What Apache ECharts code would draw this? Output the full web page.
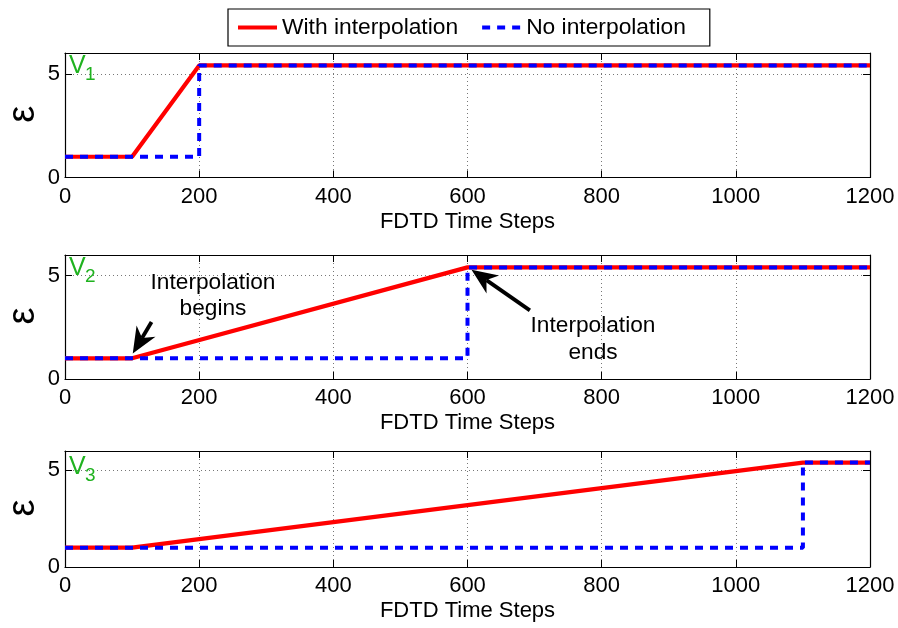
<!DOCTYPE html>
<html>
<head>
<meta charset="utf-8">
<script src="https://cdn.jsdelivr.net/npm/echarts@6/dist/echarts.min.js"></script>
<style>
  html, body { margin: 0; padding: 0; background: #fff; }
  #chart { width: 898px; height: 628px; }
</style>
</head>
<body>
<div id="chart"></div>
<script>
// Permittivity (ε) versus FDTD time step for three switching schemes V1..V3
const xTickValues = [0, 200, 400, 600, 800, 1000, 1200];
const yTickValues = [0, 5];
const panelLabels = ['1', '2', '3'];

// "With interpolation": linear ramp from ε=1 to ε=5.4
const withInterpV1 = [[0, 1], [100, 1], [200, 5.4], [1200, 5.4]];
const withInterpV2 = [[0, 1], [100, 1], [600, 5.4], [1200, 5.4]];
const withInterpV3 = [[0, 1], [100, 1], [1100, 5.4], [1200, 5.4]];

// "No interpolation": abrupt step at the end of the switching window
const noInterpV1 = [[0, 1], [200, 1], [200, 5.4], [1200, 5.4]];
const noInterpV2 = [[0, 1], [600, 1], [600, 5.4], [1200, 5.4]];
const noInterpV3 = [[0, 1], [1100, 1], [1100, 5.4], [1200, 5.4]];

// Annotation arrows in panel V2: [tailX, tailY, tipX, tipY] in data units
const annotationArrows = [
  [129, 2.76, 101, 1.23],
  [693, 3.32, 606, 5.29]
];

const withSeries = [withInterpV1, withInterpV2, withInterpV3];
const noSeries = [noInterpV1, noInterpV2, noInterpV3];

const FONT = '"Liberation Sans", Arial, Helvetica, sans-serif';
const RED = '#ff0000';
const BLUE = '#0000ff';
const GREEN = '#1fb21f';

const gridBoxes = [
  { left: 65, top: 53, width: 805, height: 124.5 },
  { left: 65, top: 255, width: 805, height: 124 },
  { left: 65, top: 451, width: 805, height: 116 }
];
const tagOffsets = [1, 1, 4];

const dotted = { show: true, lineStyle: { color: '#777', width: 1, type: [1, 3] } };
const frameLine = { show: true, onZero: false, lineStyle: { color: '#000', width: 1.2 } };
const innerTick = { show: true, inside: true, length: 7, lineStyle: { color: '#000', width: 1 } };

const grids = [], xAxes = [], yAxes = [], series = [], graphics = [];

gridBoxes.forEach((g, i) => {
  grids.push(Object.assign({ containLabel: false, outerBoundsMode: 'none' }, g));

  xAxes.push({
    type: 'value', gridIndex: i, position: 'bottom',
    min: 0, max: 1200, interval: 200,
    name: 'FDTD Time Steps', nameLocation: 'middle', nameGap: 33,
    nameTextStyle: { fontFamily: FONT, fontSize: 22, color: '#000' },
    axisLine: frameLine, axisTick: innerTick,
    axisLabel: { fontFamily: FONT, fontSize: 22, color: '#000', margin: 8,
      formatter: v => xTickValues.includes(v) ? String(v) : '' },
    splitLine: dotted
  });
  xAxes.push({
    type: 'value', gridIndex: i, position: 'top',
    min: 0, max: 1200, interval: 200,
    axisLine: frameLine, axisTick: innerTick,
    axisLabel: { show: false }, splitLine: { show: false }
  });

  yAxes.push({
    type: 'value', gridIndex: i, position: 'left',
    min: 0, max: 6, interval: 5,
    axisLine: frameLine, axisTick: innerTick,
    axisLabel: { fontFamily: FONT, fontSize: 22, color: '#000', margin: 5,
      formatter: v => yTickValues.includes(v) ? String(v) : '' },
    splitLine: dotted
  });
  yAxes.push({
    type: 'value', gridIndex: i, position: 'right',
    min: 0, max: 6, interval: 5,
    axisLine: frameLine, axisTick: innerTick,
    axisLabel: { show: false }, splitLine: { show: false }
  });

  series.push({
    name: 'With interpolation', type: 'line',
    xAxisIndex: 2 * i, yAxisIndex: 2 * i,
    data: withSeries[i], symbol: 'none', showSymbol: false,
    lineStyle: { color: RED, width: 4.2 }, itemStyle: { color: RED },
    emphasis: { disabled: true }, z: 3
  });
  series.push({
    name: 'No interpolation', type: 'line',
    xAxisIndex: 2 * i, yAxisIndex: 2 * i,
    data: noSeries[i], symbol: 'none', showSymbol: false,
    lineStyle: { color: BLUE, width: 4, type: [8, 7] }, itemStyle: { color: BLUE },
    emphasis: { disabled: true }, z: 4
  });

  // Y-axis title ε, rotated to read upward
  graphics.push({
    type: 'text', x: 24, y: g.top + g.height / 2 - 1, rotation: Math.PI / 2, z: 10,
    style: { text: 'ε', fontFamily: FONT, fontSize: 38, fill: '#000',
      align: 'center', verticalAlign: 'middle' }
  });

  // Panel tag V_n (green, with subscript)
  const vTop = g.top + tagOffsets[i];
  graphics.push({
    type: 'text', left: 69, top: vTop, z: 10,
    style: { text: 'V', fontFamily: FONT, fontSize: 25, fill: GREEN }
  });
  graphics.push({
    type: 'text', left: 85, top: vTop + 11, z: 10,
    style: { text: panelLabels[i], fontFamily: FONT, fontSize: 19, fill: GREEN }
  });
});

// Black arrows with a swept-back head, drawn in panel V2's coordinates
series.push({
  type: 'custom', xAxisIndex: 2, yAxisIndex: 2, clip: false, silent: true, z: 6,
  data: annotationArrows,
  renderItem: function (params, api) {
    const tail = api.coord([api.value(0), api.value(1)]);
    const tip = api.coord([api.value(2), api.value(3)]);
    const dx = tip[0] - tail[0], dy = tip[1] - tail[1];
    const len = Math.sqrt(dx * dx + dy * dy);
    const ux = dx / len, uy = dy / len, nx = -uy, ny = ux;
    const headLen = 26, halfW = 11;
    const base = [tip[0] - ux * headLen, tip[1] - uy * headLen];
    const notch = [tip[0] - ux * headLen * 0.7, tip[1] - uy * headLen * 0.7];
    return {
      type: 'group',
      children: [
        { type: 'line', shape: { x1: tail[0], y1: tail[1], x2: notch[0], y2: notch[1] },
          style: { stroke: '#000', lineWidth: 3.8 } },
        { type: 'polygon',
          shape: { points: [tip, [base[0] + nx * halfW, base[1] + ny * halfW], notch,
                            [base[0] - nx * halfW, base[1] - ny * halfW]] },
          style: { fill: '#000' } }
      ]
    };
  }
});

// Annotation text in panel V2
graphics.push({
  type: 'text', x: 213, y: 270, z: 10,
  style: { text: 'Interpolation\nbegins', fontFamily: FONT, fontSize: 22.7, lineHeight: 25.5,
    fill: '#000', align: 'center', verticalAlign: 'top' }
});
graphics.push({
  type: 'text', x: 593, y: 312, z: 10,
  style: { text: 'Interpolation\nends', fontFamily: FONT, fontSize: 22.7, lineHeight: 27,
    fill: '#000', align: 'center', verticalAlign: 'top' }
});

const chart = echarts.init(document.getElementById('chart'), null, { renderer: 'canvas' });
chart.setOption({
  animation: false,
  backgroundColor: '#fff',
  legend: {
    left: 228, top: 9,
    data: ['With interpolation', 'No interpolation'],
    itemWidth: 39, itemHeight: 14, itemGap: 22,
    padding: [7, 24, 7, 8],
    borderColor: '#000', borderWidth: 1.2,
    itemStyle: { color: 'transparent', borderWidth: 0, opacity: 0 },
    lineStyle: { width: 4 },
    textStyle: { fontFamily: FONT, fontSize: 22.8, color: '#000' },
    selectedMode: false
  },
  grid: grids,
  xAxis: xAxes,
  yAxis: yAxes,
  series: series,
  graphic: graphics
});
</script>
</body>
</html>
